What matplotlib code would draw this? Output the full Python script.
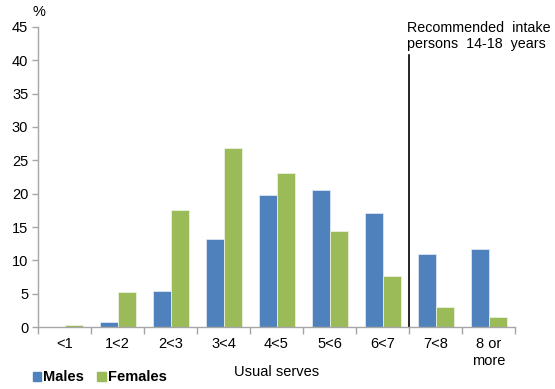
import numpy as np
import matplotlib.pyplot as plt
from matplotlib.patches import Patch

plt.rcParams['font.family'] = ['Liberation Sans', 'DejaVu Sans']

categories = ['<1', '1<2', '2<3', '3<4', '4<5', '5<6', '6<7', '7<8', '8 or\nmore']
males = [0.0, 0.8, 5.4, 13.2, 19.8, 20.5, 17.1, 11.0, 11.7]
females = [0.3, 5.2, 17.5, 26.8, 23.1, 14.4, 7.6, 3.0, 1.5]

blue = '#4F81BD'
green = '#9BBB59'
axis_grey = '#A6A6A6'

fig = plt.figure(figsize=(5.55, 3.89), dpi=100)
ax = fig.add_axes([0.0685, 0.159, 0.8595, 0.772])

x = np.arange(len(categories))
w = 0.34
ax.bar(x - w/2, males, w, color=blue, edgecolor='#DCE6F2', linewidth=0.6)
ax.bar(x + w/2, females, w, color=green, edgecolor='#EBF1DE', linewidth=0.6)

ax.set_xlim(-0.5, len(categories) - 0.5)
ax.set_ylim(0, 45)
ax.set_yticks(np.arange(0, 46, 5))
ax.set_xticks(x)
ax.set_xticklabels(categories, fontsize=10.5, linespacing=1.3)
ax.set_xticks(np.arange(-0.5, len(categories), 1), minor=True)
ax.tick_params(axis='x', which='major', length=0, pad=7)
ax.tick_params(axis='x', which='minor', length=5, color=axis_grey, width=1)
ax.tick_params(axis='y', length=4, color=axis_grey, width=1, labelsize=10.5, pad=3)

for s in ['top', 'right']:
    ax.spines[s].set_visible(False)
for s in ['left', 'bottom']:
    ax.spines[s].set_color(axis_grey)
    ax.spines[s].set_linewidth(1)

# recommended intake line
ax.plot([6.5, 6.5], [0, 40.8], color='black', lw=1.2, clip_on=False)
ax.text(6.47, 41.4, 'Recommended  intake\npersons  14-18  years', fontsize=10.3,
        ha='left', va='bottom', linespacing=1.15)

ax.set_xlabel('Usual serves', fontsize=10.5, labelpad=-2)
fig.text(0.058, 0.97, '%', fontsize=10.5, ha='left', va='center')

handles = [Patch(color=blue, label='Males'), Patch(color=green, label='Females')]
fig.legend(handles=handles, loc='lower left', bbox_to_anchor=(0.035, -0.022), ncol=2,
           frameon=False, handlelength=0.6, handleheight=0.6, handletextpad=0.15,
           columnspacing=0.9, prop={'weight': 'bold', 'size': 10.5})

fig.savefig('out.png', dpi=100)
